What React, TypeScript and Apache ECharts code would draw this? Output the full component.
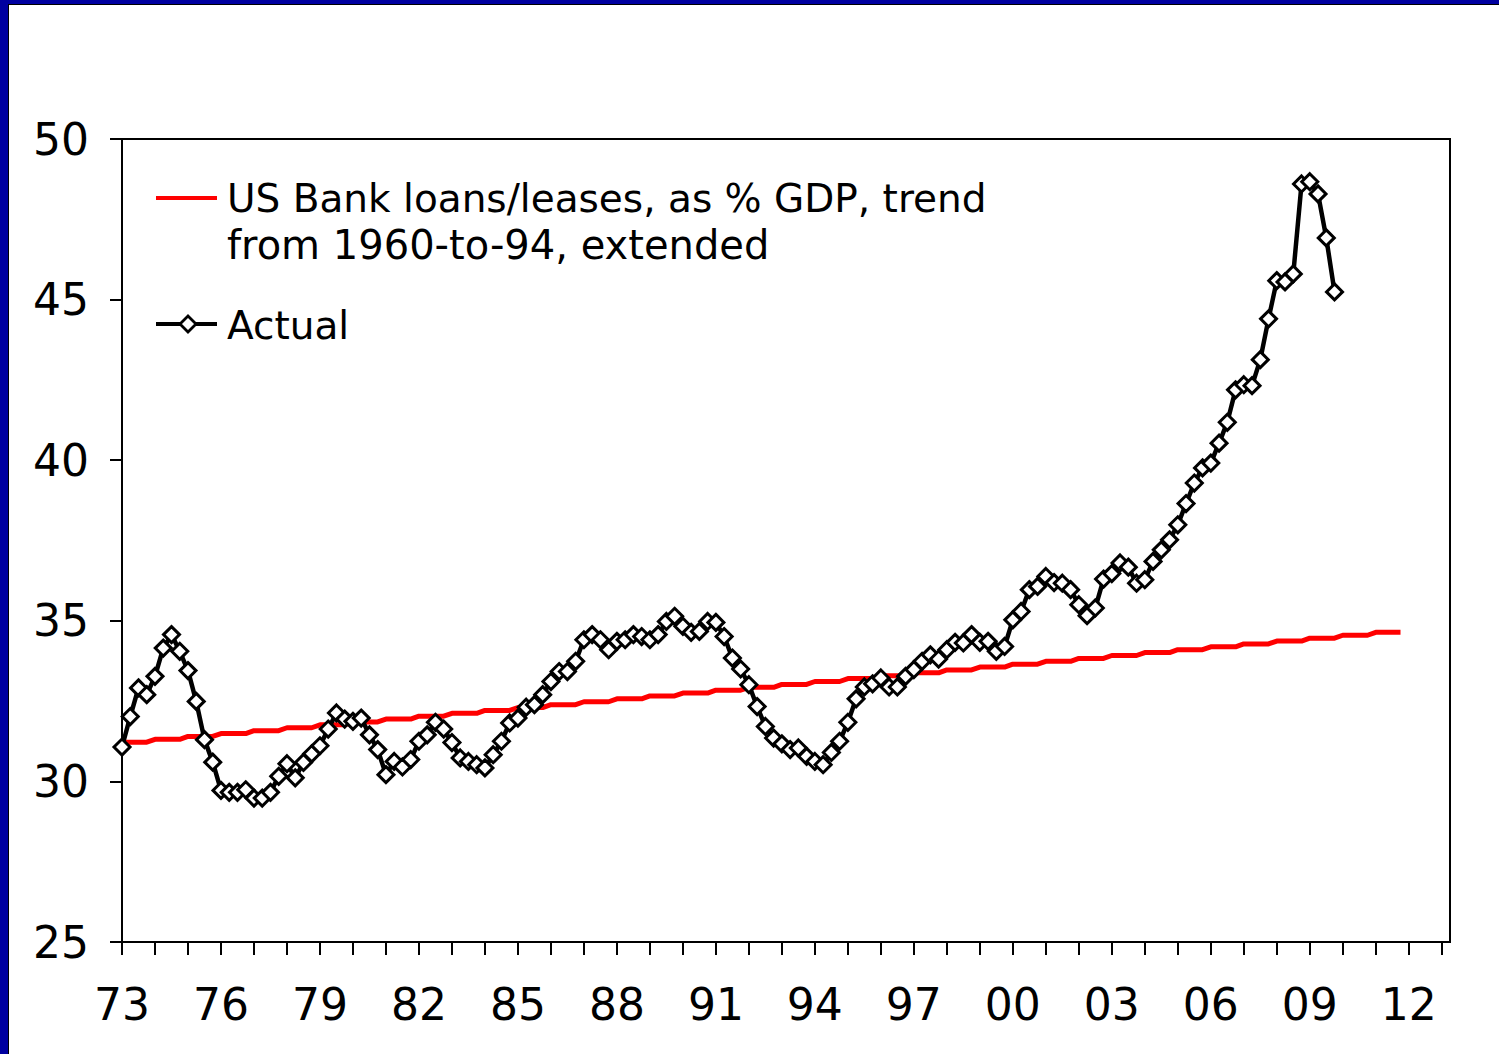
import React, { useEffect, useRef } from "react";
import * as echarts from "echarts";

// Quarterly data, first quarter = 1973 Q1
const START_YEAR = 1973;
const actualValues = [
  31.07, 32.02, 32.91, 32.70, 33.27, 34.15, 34.57, 34.05, 33.45, 32.49,
  31.30, 30.60, 29.72, 29.66, 29.66, 29.74, 29.48, 29.48, 29.66, 30.16,
  30.55, 30.11, 30.59, 30.86, 31.11, 31.63, 32.13, 31.94, 31.87, 31.97,
  31.45, 30.99, 30.21, 30.62, 30.45, 30.68, 31.25, 31.45, 31.84, 31.63,
  31.21, 30.73, 30.62, 30.52, 30.42, 30.83, 31.25, 31.82, 31.97, 32.31,
  32.39, 32.70, 33.11, 33.42, 33.42, 33.74, 34.41, 34.57, 34.41, 34.10,
  34.36, 34.41, 34.57, 34.51, 34.41, 34.57, 34.98, 35.14, 34.83, 34.64,
  34.67, 34.98, 34.95, 34.51, 33.84, 33.50, 33.01, 32.33, 31.71, 31.35,
  31.17, 30.99, 31.04, 30.78, 30.62, 30.52, 30.90, 31.25, 31.84, 32.57,
  32.94, 33.04, 33.22, 32.94, 32.94, 33.27, 33.48, 33.74, 33.94, 33.81,
  34.10, 34.33, 34.31, 34.57, 34.33, 34.36, 34.05, 34.20, 35.03, 35.29,
  35.97, 36.07, 36.38, 36.19, 36.17, 35.97, 35.50, 35.16, 35.40, 36.30,
  36.47, 36.80, 36.67, 36.17, 36.28, 36.85, 37.21, 37.52, 37.99, 38.65,
  39.29, 39.76, 39.91, 40.53, 41.18, 42.19, 42.35, 42.32, 43.13, 44.40,
  45.59, 45.55, 45.80, 48.60, 48.67, 48.29, 46.92, 45.24,
];

// Annual trend values (1973 .. 2011), held through each year's quarters
const trendValues = [
  31.22, 31.31, 31.40, 31.49, 31.58, 31.67, 31.76, 31.85, 31.94, 32.03,
  32.12, 32.21, 32.30, 32.39, 32.48, 32.57, 32.66, 32.75, 32.84, 32.93,
  33.02, 33.11, 33.20, 33.29, 33.38, 33.47, 33.56, 33.65, 33.74, 33.83,
  33.92, 34.01, 34.10, 34.19, 34.28, 34.37, 34.46, 34.55, 34.64,
];

const labelYears = [1973, 1976, 1979, 1982, 1985, 1988, 1991, 1994, 1997, 2000, 2003, 2006, 2009, 2012];
const yTicks = [25, 30, 35, 40, 45, 50];
const legendTrend1 = "US Bank loans/leases, as % GDP, trend";
const legendTrend2 = "from 1960-to-94, extended";
const legendActual = "Actual";

const FONT = "DejaVu Sans";

export default function App() {
  const ref = useRef<HTMLDivElement>(null);
  useEffect(() => {
    if (!ref.current) return;
    const chart = echarts.init(ref.current, null, { renderer: "svg" });
    const actualData = actualValues.map((v, i) => [START_YEAR + i / 4, v]);
    const trendData: number[][] = [];
    trendValues.forEach((v, i) => {
      trendData.push([START_YEAR + i, v]);
      trendData.push([START_YEAR + i + 0.75, v]);
    });
    const tickYears: number[] = [];
    for (let y = 1973; y <= 2013; y++) tickYears.push(y);

    chart.setOption({
      animation: false,
      backgroundColor: "#ffffff",
      grid: {
        left: 122,
        top: 139,
        right: 49,
        bottom: 112,
        show: true,
        borderColor: "#000",
        borderWidth: 2,
        backgroundColor: "transparent",
      },
      xAxis: {
        type: "value",
        min: 1973,
        max: 2013.25,
        splitLine: { show: false },
        axisLine: { show: true, onZero: false, lineStyle: { color: "#000", width: 2 } },
        axisTick: {
          show: true,
          length: 13,
          inside: false,
          customValues: tickYears,
          lineStyle: { color: "#000", width: 2 },
        },
        axisLabel: {
          customValues: labelYears,
          formatter: (v: number) => String(Math.round(v) % 100).padStart(2, "0"),
          color: "#000",
          fontFamily: FONT,
          fontSize: 44,
          margin: 40,
        },
      },
      yAxis: {
        type: "value",
        min: 25,
        max: 50,
        interval: 5,
        splitLine: { show: false },
        axisLine: { show: true, onZero: false, lineStyle: { color: "#000", width: 2 } },
        axisTick: { show: true, length: 12, lineStyle: { color: "#000", width: 2 } },
        axisLabel: {
          color: "#000",
          fontFamily: FONT,
          fontSize: 44,
          margin: 33,
          formatter: (v: number) => (yTicks.includes(v) ? String(v) : ""),
        },
      },
      series: [
        {
          name: legendTrend1,
          type: "line",
          data: trendData,
          showSymbol: false,
          symbol: "none",
          lineStyle: { color: "#ff0000", width: 5 },
          z: 2,
        },
        {
          name: legendActual,
          type: "line",
          data: actualData,
          symbol: "diamond",
          symbolSize: 16,
          itemStyle: { color: "#ffffff", borderColor: "#000", borderWidth: 3 },
          lineStyle: { color: "#000", width: 4.5 },
          z: 3,
        },
      ],
      graphic: [
        // frame
        { type: "rect", shape: { x: 0, y: 0, width: 8, height: 1054 }, style: { fill: "#0000a0" }, z: 100 },
        { type: "rect", shape: { x: 0, y: 0, width: 1499, height: 4 }, style: { fill: "#0000a0" }, z: 100 },
        { type: "line", shape: { x1: 8.5, y1: 4, x2: 8.5, y2: 1054 }, style: { stroke: "#000", lineWidth: 1 }, z: 100 },
        { type: "line", shape: { x1: 8, y1: 4.5, x2: 1499, y2: 4.5 }, style: { stroke: "#000", lineWidth: 1 }, z: 100 },
        // legend
        { type: "line", shape: { x1: 156, y1: 198, x2: 217, y2: 198 }, style: { stroke: "#ff0000", lineWidth: 4 }, z: 100 },
        {
          type: "text", x: 227, y: 198,
          style: { text: legendTrend1, fill: "#000", font: `39px "${FONT}"`, textAlign: "left", textVerticalAlign: "middle" },
          z: 100,
        },
        {
          type: "text", x: 227, y: 245,
          style: { text: legendTrend2, fill: "#000", font: `40px "${FONT}"`, textAlign: "left", textVerticalAlign: "middle" },
          z: 100,
        },
        { type: "line", shape: { x1: 156, y1: 324, x2: 217, y2: 324 }, style: { stroke: "#000", lineWidth: 4 }, z: 100 },
        {
          type: "polygon",
          shape: { points: [[188, 316], [196, 324], [188, 332], [180, 324]] },
          style: { fill: "#fff", stroke: "#000", lineWidth: 2.8 },
          z: 101,
        },
        {
          type: "text", x: 227, y: 325,
          style: { text: legendActual, fill: "#000", font: `39px "${FONT}"`, textAlign: "left", textVerticalAlign: "middle" },
          z: 100,
        },
      ],
    });
    return () => chart.dispose();
  }, []);
  return (
    <div
      ref={ref}
      style={{ position: "fixed", left: 0, top: 0, width: 1499, height: 1054, background: "#fff" }}
    />
  );
}
